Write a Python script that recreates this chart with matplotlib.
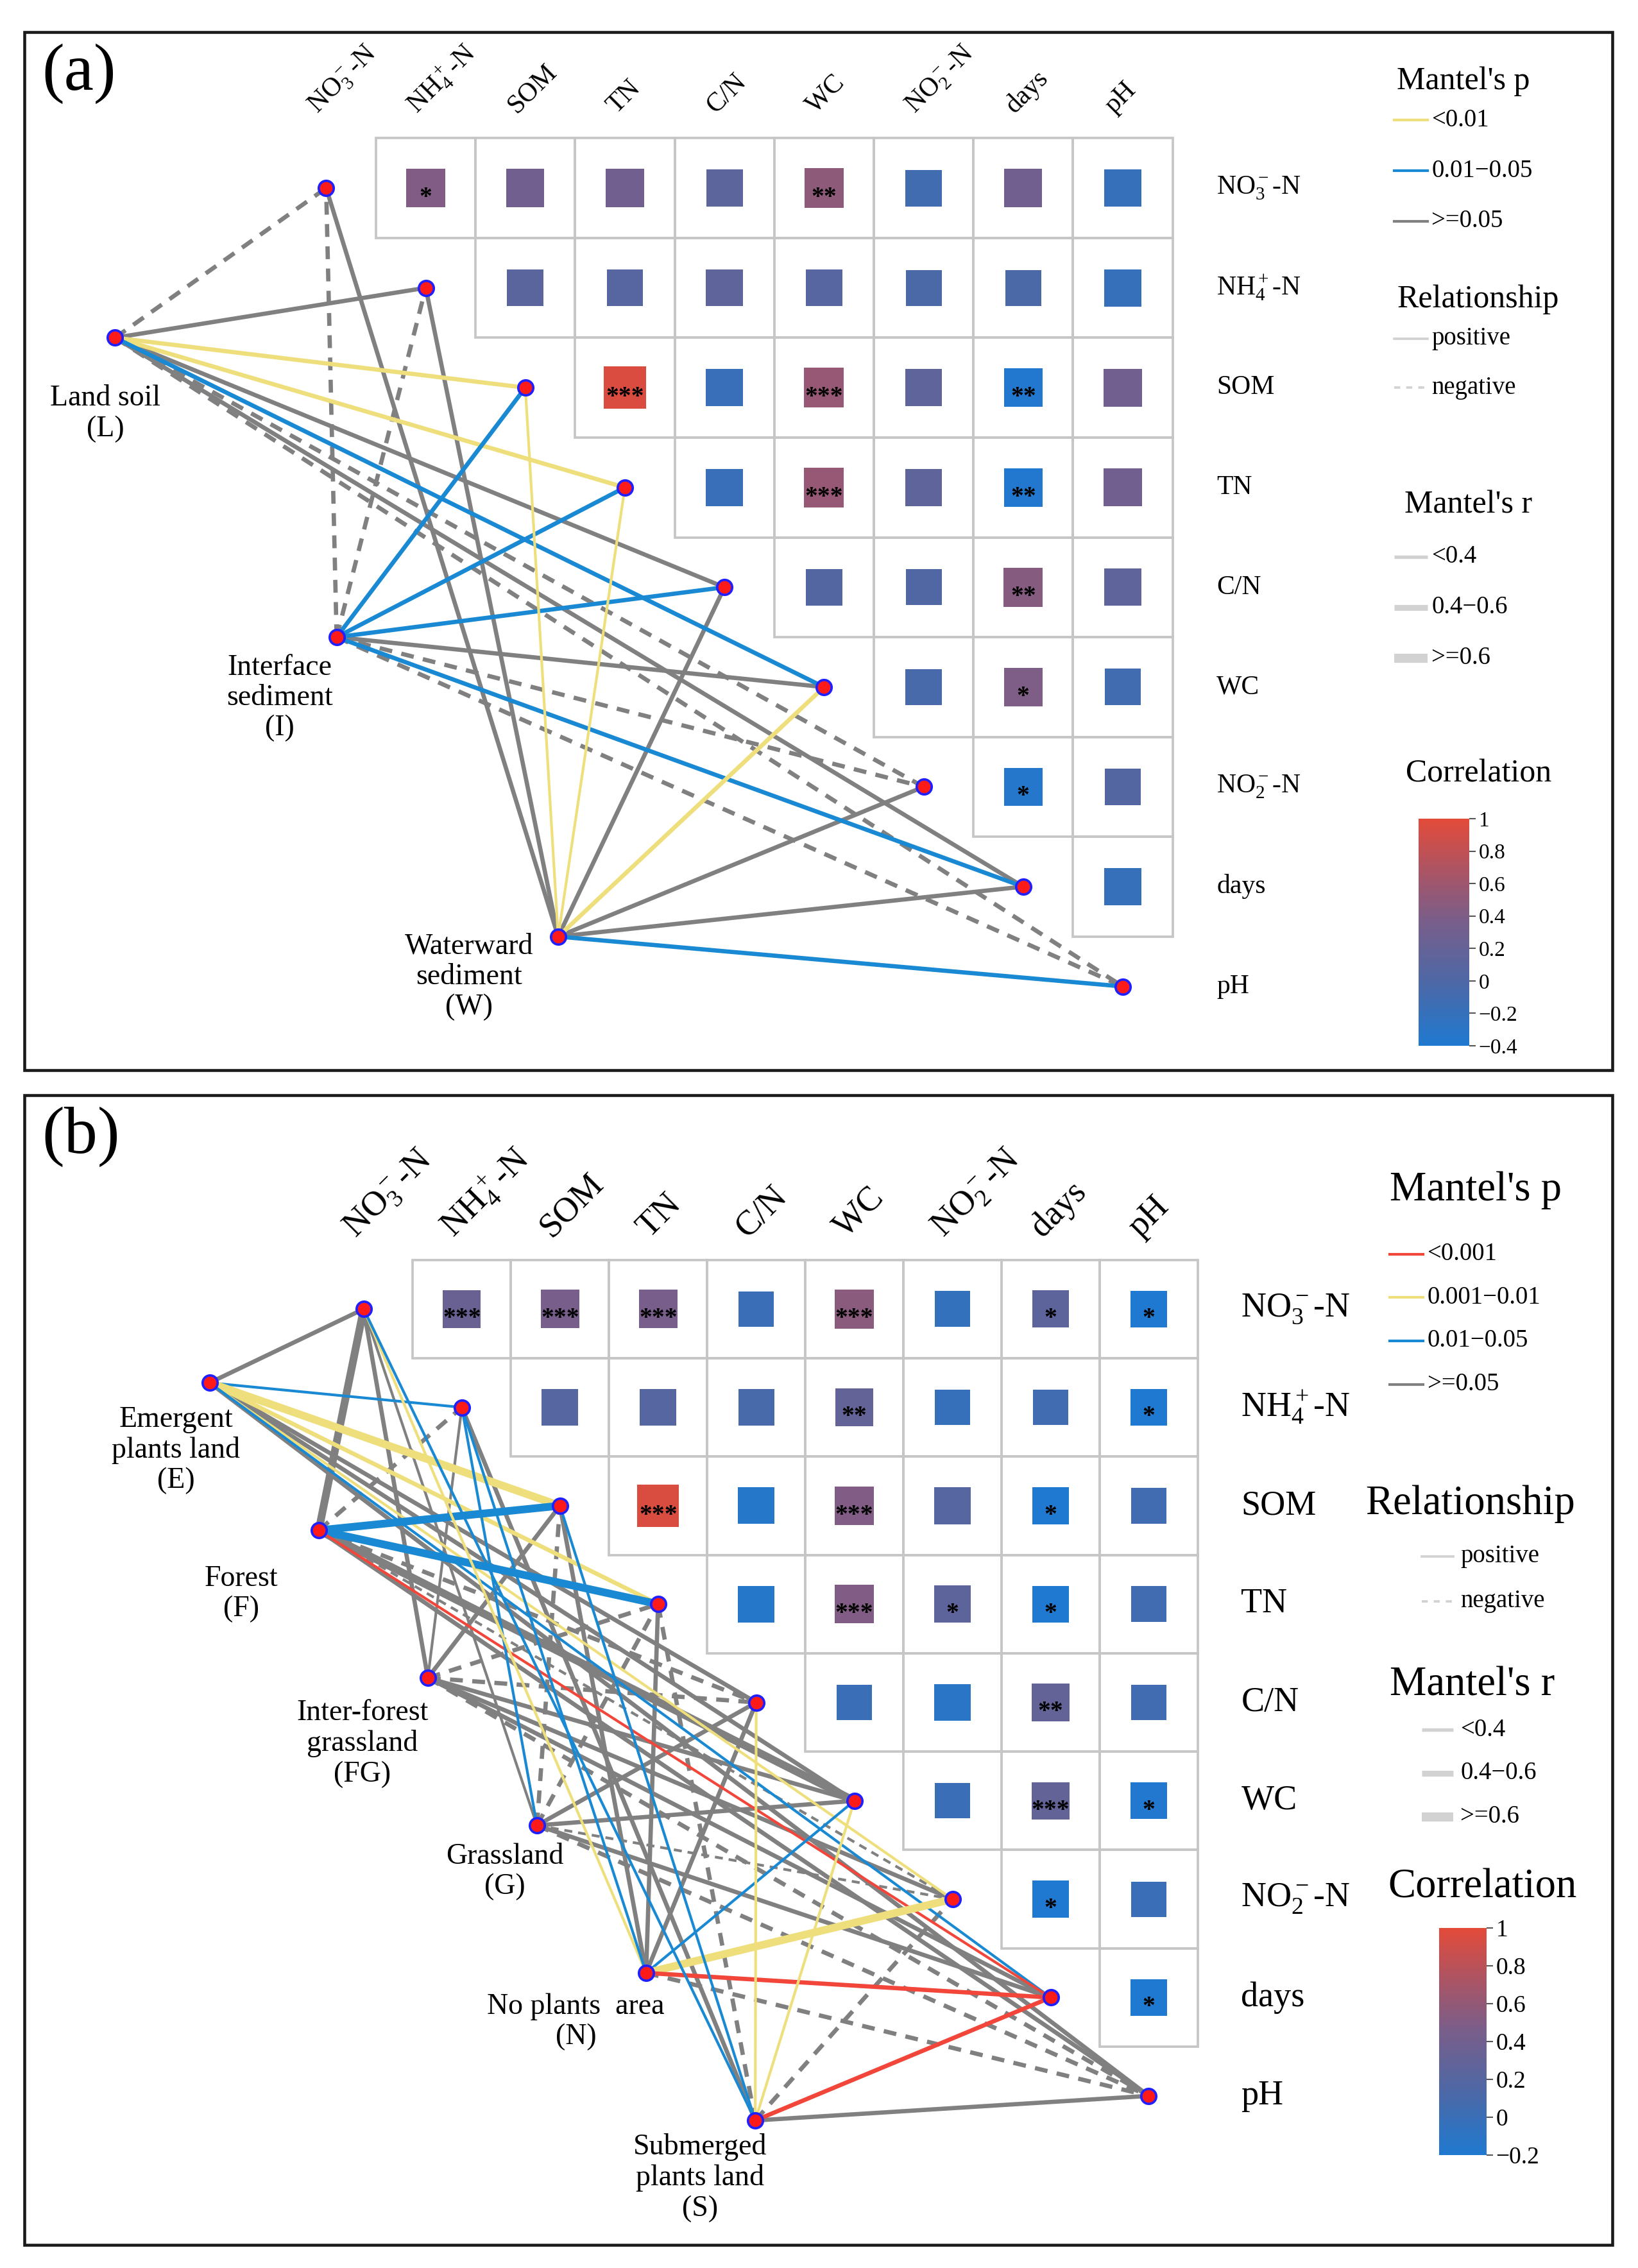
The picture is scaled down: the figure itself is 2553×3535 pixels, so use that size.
"""
Mantel test network + correlation heatmap, panels (a) and (b).

Heatmap: upper triangle of pairwise correlations between soil factors.
Lines: Mantel links from each site group to every soil factor.
"""

import matplotlib as mpl
import matplotlib.pyplot as plt
from matplotlib.colors import LinearSegmentedColormap, Normalize
from matplotlib.patches import Rectangle

plt.rcParams["font.family"] = ["Liberation Serif", "DejaVu Serif"]
plt.rcParams["mathtext.fontset"] = "custom"
plt.rcParams["mathtext.rm"] = "Liberation Serif"
plt.rcParams["mathtext.it"] = "Liberation Serif:italic"
plt.rcParams["mathtext.bf"] = "Liberation Serif:bold"

# ---------------------------------------------------------------- data
VARS = [r"NO$_3^-$-N", r"NH$_4^+$-N", "SOM", "TN", "C/N", "WC",
        r"NO$_2^-$-N", "days", "pH"]

# upper triangle, row i holds columns i+1 .. 8
CORR_A = [
    [0.42, 0.30, 0.30, 0.12, 0.50, -0.10, 0.30, -0.20],
    [0.10, 0.08, 0.15, 0.08, -0.02, -0.02, -0.20],
    [0.95, -0.18, 0.55, 0.15, -0.38, 0.30],
    [-0.18, 0.55, 0.15, -0.38, 0.30],
    [0.05, 0.02, 0.45, 0.15],
    [-0.05, 0.40, -0.10],
    [-0.35, 0.05],
    [-0.20],
]
STARS_A = [
    ["*", "", "", "", "**", "", "", ""],
    ["", "", "", "", "", "", ""],
    ["***", "", "***", "", "**", ""],
    ["", "***", "", "**", ""],
    ["", "", "**", ""],
    ["", "*", ""],
    ["*", ""],
    [""],
]
CORR_B = [
    [0.35, 0.45, 0.45, 0.00, 0.55, -0.05, 0.25, -0.20],
    [0.20, 0.20, 0.10, 0.30, -0.02, 0.05, -0.20],
    [0.95, -0.15, 0.50, 0.20, -0.20, 0.05],
    [-0.15, 0.50, 0.25, -0.20, 0.05],
    [0.00, -0.12, 0.30, 0.05],
    [0.00, 0.30, -0.18],
    [-0.20, 0.00],
    [-0.20],
]
STARS_B = [
    ["***", "***", "***", "", "***", "", "*", "*"],
    ["", "", "", "**", "", "", "*"],
    ["***", "", "***", "", "*", ""],
    ["", "***", "*", "*", ""],
    ["", "", "**", ""],
    ["", "***", "*"],
    ["*", ""],
    ["*"],
]

SOURCES_A = ["Land soil\n(L)", "Interface\nsediment\n(I)",
             "Waterward\nsediment\n(W)"]
SOURCES_B = ["Emergent\nplants land\n(E)", "Forest\n(F)",
             "Inter-forest\ngrassland\n(FG)", "Grassland\n(G)",
             "No plants  area\n(N)", "Submerged\nplants land\n(S)"]

# Mantel's p class per link: r <0.001, y 0.001-0.01, b 0.01-0.05, g >=0.05
P_A = [
    ["g", "g", "y", "y", "g", "b", "g", "g", "g"],
    ["g", "g", "b", "b", "b", "g", "g", "b", "g"],
    ["g", "g", "y", "y", "g", "y", "g", "g", "b"],
]
SIGN_A = [
    [-1, 1, 1, 1, 1, 1, -1, 1, -1],
    [-1, -1, 1, 1, 1, 1, -1, 1, -1],
    [1, 1, 1, 1, 1, 1, 1, 1, 1],
]
# Mantel's r class: 1 <0.4, 2 0.4-0.6, 3 >=0.6
R_A = [
    [2, 2, 2, 2, 2, 2, 2, 2, 2],
    [2, 2, 2, 2, 2, 2, 2, 2, 2],
    [2, 2, 1, 1, 2, 2, 2, 2, 2],
]
P_B = [
    ["g", "b", "y", "y", "g", "g", "y", "b", "g"],
    ["g", "g", "b", "b", "g", "g", "g", "r", "g"],
    ["g", "g", "g", "g", "g", "g", "g", "g", "g"],
    ["g", "b", "g", "g", "g", "g", "g", "g", "g"],
    ["y", "b", "g", "g", "g", "b", "y", "r", "g"],
    ["b", "g", "b", "g", "y", "y", "g", "r", "g"],
]
SIGN_B = [
    [1, 1, 1, 1, 1, 1, 1, 1, 1],
    [1, -1, 1, 1, -1, 1, -1, 1, 1],
    [1, 1, 1, -1, -1, 1, 1, 1, -1],
    [1, 1, -1, -1, 1, 1, -1, 1, -1],
    [1, 1, 1, 1, 1, 1, 1, 1, -1],
    [1, 1, 1, -1, 1, 1, -1, 1, 1],
]
R_B = [
    [2, 1, 3, 2, 2, 2, 1, 1, 2],
    [3, 2, 3, 3, 2, 3, 1, 1, 2],
    [2, 1, 2, 2, 2, 2, 2, 2, 2],
    [1, 1, 2, 2, 2, 2, 1, 2, 2],
    [1, 1, 2, 2, 2, 1, 3, 2, 2],
    [1, 2, 1, 2, 1, 1, 2, 2, 2],
]

P_LEGEND_A = [("y", "<0.01"), ("b", "0.01\u22120.05"), ("g", ">=0.05")]
P_LEGEND_B = [("r", "<0.001"), ("y", "0.001\u22120.01"),
              ("b", "0.01\u22120.05"), ("g", ">=0.05")]
R_LEGEND = [(1, "<0.4"), (2, "0.4\u22120.6"), (3, ">=0.6")]
CBAR_TICKS_A = [-0.4, -0.2, 0, 0.2, 0.4, 0.6, 0.8, 1]
CBAR_TICKS_B = [-0.2, 0, 0.2, 0.4, 0.6, 0.8, 1]

# ---------------------------------------------------------------- style
P_COLORS = {"r": "#f2463a", "y": "#eedf7c", "b": "#1a89d3", "g": "#808080"}
R_WIDTHS = {1: 1.0, 2: 1.6, 3: 2.9}
R_LEG_WIDTHS = {1: 1.3, 2: 2.2, 3: 3.4}
CMAP = LinearSegmentedColormap.from_list(
    "corr", [(0.0, "#1f79d0"), (0.28, "#4d68a6"), (0.55, "#795e8a"),
             (0.75, "#a65568"), (1.0, "#e34b3a")])

W_PX, H_PX = 1135, 1568  # drawing grid (scaled to 2553 x 3535 output)


def fmt_tick(v):
    s = f"{v:g}"
    return s.replace("-", "\u2212")


def draw_panel(ax, fig, cfg):
    """Draw one panel: frame, heatmap, links, nodes, labels and legends."""
    x0, y0, c = cfg["x0"], cfg["y0"], cfg["cell"]
    n = len(VARS)
    norm = Normalize(cfg["vmin"], 1.0)

    fx0, fy0, fx1, fy1 = cfg["frame"]
    ax.add_patch(Rectangle((fx0, fy0), fx1 - fx0, fy1 - fy0, fill=False,
                           lw=1.1, ec="#1a1a1a", zorder=1))
    ax.text(fx0 + 12, fy0 + 29, cfg["tag"], fontsize=25, ha="left",
            va="center")

    # heatmap cells
    for i, row in enumerate(cfg["corr"]):
        for k, val in enumerate(row):
            j = i + 1 + k
            cx, cy = x0 + c * j, y0 + c * i
            ax.add_patch(Rectangle((cx - c / 2, cy - c / 2), c, c,
                                   fill=False, ec="#c6c6c6", lw=0.9,
                                   zorder=1))
            side = (0.36 + 0.07 * abs(val)) * c
            ax.add_patch(Rectangle((cx - side / 2, cy - side / 2), side,
                                   side, fc=CMAP(norm(val)), ec="none",
                                   zorder=2))
            star = cfg["stars"][i][k]
            if star:
                ax.text(cx, cy + 0.1 * c, star, fontsize=cfg["star_fs"],
                        fontweight="bold", ha="center", va="center",
                        zorder=3)

    # column and row labels
    for j, lab in enumerate(VARS):
        ax.text(x0 + c * j - 6, cfg["col_lab_y"], lab, rotation=45,
                rotation_mode="anchor", ha="left", va="baseline",
                fontsize=cfg["lab_fs"])
        ax.text(cfg["row_lab_x"], y0 + c * j, lab, ha="left", va="center",
                fontsize=cfg["lab_fs"])

    # source nodes placed on a straight diagonal
    sx0, sy0, sdx, sdy = cfg["src_line"]
    for s, name in enumerate(cfg["sources"]):
        sx = x0 + c * (sx0 + sdx * s)
        sy = y0 + c * (sy0 + sdy * s)
        for j in range(n):
            p = cfg["p"][s][j]
            ls = "-" if cfg["sign"][s][j] > 0 else (0, (3.0, 2.2))
            ax.plot([sx, x0 + c * j], [sy, y0 + c * j], color=P_COLORS[p],
                    lw=R_WIDTHS[cfg["r"][s][j]], ls=ls,
                    zorder=2 if p == "g" else 3, solid_capstyle="butt")
        ax.plot(sx, sy, "o", ms=5.6, mfc="#ff1a1a", mec="#2020ff", mew=0.9,
                zorder=6)
        lx, ly = cfg["src_lab"][s]
        ax.text(lx, ly, name, ha="center", va="top", fontsize=11,
                linespacing=1.15)
    for j in range(n):
        ax.plot(x0 + c * j, y0 + c * j, "o", ms=5.6, mfc="#ff1a1a",
                mec="#2020ff", mew=0.9, zorder=6)

    # legends
    lg = cfg["legend"]
    lx0, lx1, ltx = lg["line_x"]
    ax.text(lg["p_title"][0], lg["p_title"][1], "Mantel's p",
            fontsize=lg["title_fs"], ha="left", va="center")
    for (code, lab), yy in zip(cfg["p_legend"], lg["p_y"]):
        ax.plot([lx0, lx1], [yy, yy], color=P_COLORS[code], lw=1.0)
        ax.text(ltx, yy, lab, fontsize=9.3, ha="left", va="center")
    ax.text(lg["rel_title"][0], lg["rel_title"][1], "Relationship",
            fontsize=lg["title_fs"], ha="left", va="center")
    rx0, rx1, rtx = lg["rel_x"]
    for ls, lab, yy in zip(["-", (0, (2.5, 2.5))], ["positive", "negative"],
                           lg["rel_y"]):
        ax.plot([rx0, rx1], [yy, yy], color="#d2d2d2", lw=0.9, ls=ls)
        ax.text(rtx, yy, lab, fontsize=9.3, ha="left", va="center")
    ax.text(lg["r_title"][0], lg["r_title"][1], "Mantel's r",
            fontsize=lg["title_fs"], ha="left", va="center")
    for (cls, lab), yy in zip(R_LEGEND, lg["r_y"]):
        ax.plot([rx0, rx1], [yy, yy], color="#d2d2d2", lw=R_LEG_WIDTHS[cls],
                solid_capstyle="butt")
        ax.text(rtx, yy, lab, fontsize=9.3, ha="left", va="center")
    ax.text(lg["c_title"][0], lg["c_title"][1], "Correlation",
            fontsize=lg["title_fs"], ha="left", va="center")

    bx0, by0, bx1, by1 = lg["cbar"]
    cax = fig.add_axes([bx0 / W_PX, 1 - by1 / H_PX, (bx1 - bx0) / W_PX,
                        (by1 - by0) / H_PX])
    cb = mpl.colorbar.ColorbarBase(cax, cmap=CMAP, norm=norm,
                                   ticks=cfg["cbar_ticks"])
    cb.outline.set_visible(False)
    cb.set_ticklabels([fmt_tick(t) for t in cfg["cbar_ticks"]])
    cax.tick_params(length=2.5, width=0.5, labelsize=lg["tick_fs"], pad=1,
                    color="#555555")


def main() -> None:
    fig = plt.figure(figsize=(2553 / 300, 3535 / 300), dpi=300)
    ax = fig.add_axes([0, 0, 1, 1])
    ax.set_xlim(0, W_PX)
    ax.set_ylim(H_PX, 0)
    ax.axis("off")

    panel_a = {
        "tag": "(a)", "frame": (17, 22, 1117, 740),
        "x0": 226.0, "y0": 130.0, "cell": 69.0, "vmin": -0.4,
        "corr": CORR_A, "stars": STARS_A, "star_fs": 9.5,
        "lab_fs": 10, "col_lab_y": 79, "row_lab_x": 843,
        "sources": SOURCES_A, "src_line": (-2.12, 1.5, 2.225, 3.0),
        "src_lab": [(73, 266), (194, 452), (325, 645)],
        "p": P_A, "sign": SIGN_A, "r": R_A,
        "p_legend": P_LEGEND_A, "cbar_ticks": CBAR_TICKS_A,
        "legend": {
            "title_fs": 12, "tick_fs": 8,
            "line_x": (966, 989, 992),
            "p_title": (968, 56), "p_y": [83, 118, 153],
            "rel_title": (968, 207), "rel_x": (966, 989, 992),
            "rel_y": [234, 268],
            "r_title": (973, 349), "r_y": [385, 420, 455],
            "c_title": (974, 535), "cbar": (983, 566, 1018, 723),
        },
    }
    panel_b = {
        "tag": "(b)", "frame": (17, 757, 1117, 1552),
        "x0": 252.0, "y0": 905.0, "cell": 68.0, "vmin": -0.2,
        "corr": CORR_B, "stars": STARS_B, "star_fs": 9.5,
        "lab_fs": 13, "col_lab_y": 856, "row_lab_x": 860,
        "sources": SOURCES_B, "src_line": (-1.57, 0.75, 1.112, 1.5),
        "src_lab": [(122, 972), (167, 1082), (251, 1175), (350, 1274),
                    (399, 1378), (485, 1475)],
        "p": P_B, "sign": SIGN_B, "r": R_B,
        "p_legend": P_LEGEND_B, "cbar_ticks": CBAR_TICKS_B,
        "legend": {
            "title_fs": 15.5, "tick_fs": 9,
            "line_x": (963, 986, 989),
            "p_title": (963, 823), "p_y": [867, 897, 927, 957],
            "rel_title": (946, 1040), "rel_x": (985, 1007, 1012),
            "rel_y": [1076, 1107],
            "r_title": (963, 1165), "r_y": [1196, 1226, 1256],
            "c_title": (962, 1305), "cbar": (997, 1333, 1030, 1490),
        },
    }
    draw_panel(ax, fig, panel_a)
    draw_panel(ax, fig, panel_b)
    fig.savefig("out.png", dpi=300, facecolor="white")


if __name__ == "__main__":
    main()
